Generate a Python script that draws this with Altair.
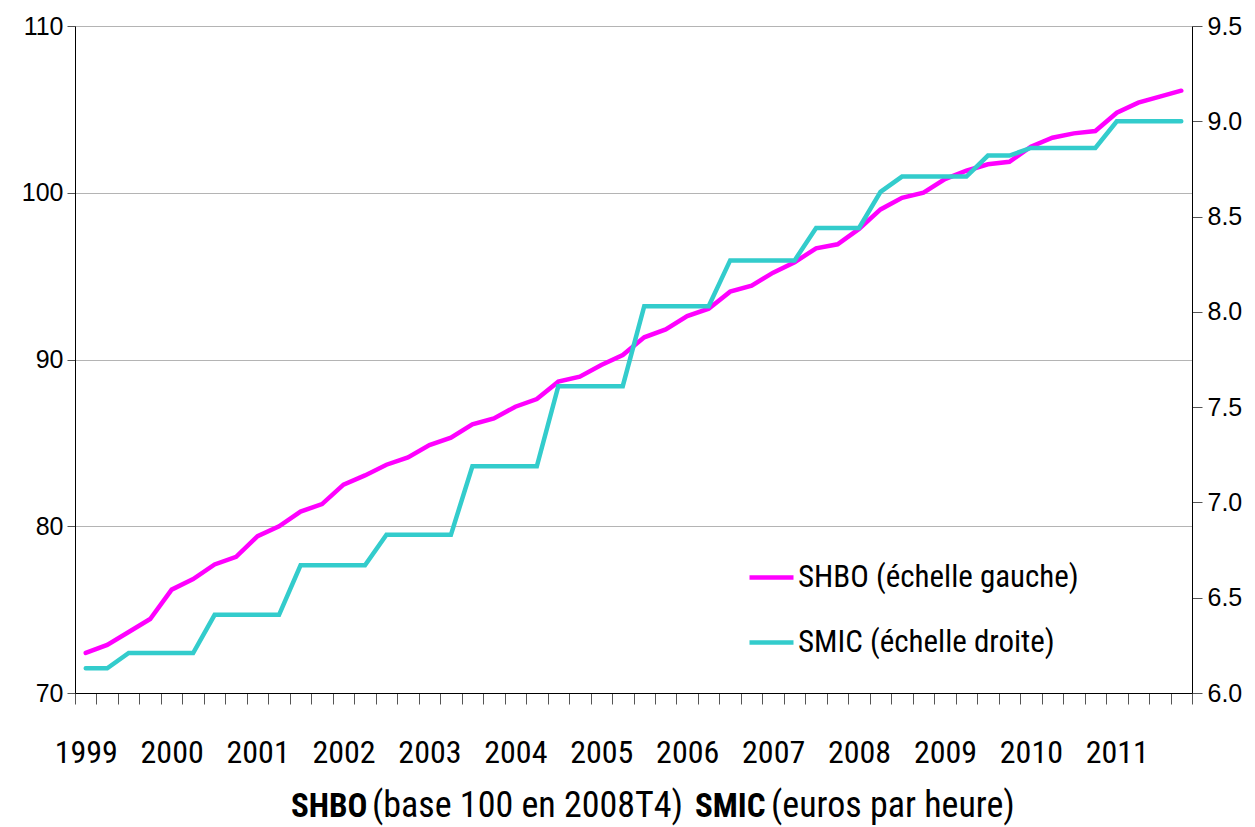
import altair as alt
import pandas as pd

# ---- data -------------------------------------------------------------
quarters = [f"{y}T{q}" for y in range(1999, 2012) for q in range(1, 5)]
year_labels = [str(y) for y in range(1999, 2012)]

shbo = [72.40, 72.88, 73.66, 74.44, 76.20, 76.83, 77.71, 78.17, 79.41, 80.00,
        80.88, 81.33, 82.50, 83.05, 83.69, 84.13, 84.87, 85.31, 86.11, 86.47,
        87.17, 87.63, 88.67, 88.97, 89.67, 90.27, 91.33, 91.80, 92.60, 93.05,
        94.07, 94.43, 95.21, 95.83, 96.67, 96.91, 97.83, 99.00, 99.70, 100.00,
        100.82, 101.32, 101.71, 101.86, 102.76, 103.30, 103.56, 103.70, 104.80,
        105.40, 105.76, 106.12]

smic = [6.13, 6.13,
        6.21, 6.21, 6.21, 6.21,
        6.41, 6.41, 6.41, 6.41,
        6.67, 6.67, 6.67, 6.67,
        6.83, 6.83, 6.83, 6.83,
        7.19, 7.19, 7.19, 7.19,
        7.61, 7.61, 7.61, 7.61,
        8.03, 8.03, 8.03, 8.03,
        8.27, 8.27, 8.27, 8.27,
        8.44, 8.44, 8.44,
        8.63,
        8.71, 8.71, 8.71, 8.71,
        8.82, 8.82,
        8.86, 8.86, 8.86, 8.86,
        9.00, 9.00, 9.00, 9.00]

series_names = ["SHBO (échelle gauche)", "SMIC (échelle droite)"]
series_colors = ["#FF00FF", "#33CCCC"]

left_ticks = [70, 80, 90, 100, 110]
right_ticks = [6.0, 6.5, 7.0, 7.5, 8.0, 8.5, 9.0, 9.5]

assert len(shbo) == len(quarters) == len(smic)

idx = list(range(len(quarters)))
df_shbo = pd.DataFrame({"i": idx, "q": quarters, "v": shbo, "s": series_names[0]})
df_smic = pd.DataFrame({"i": idx, "q": quarters, "v": smic, "s": series_names[1]})

NARROW = "Roboto Condensed, Roboto, sans-serif"
ARIAL = "Liberation Sans, Arial, sans-serif"

n = len(quarters)
x_values = [k - 0.5 for k in range(n + 1)] + [4 * k for k in range(len(year_labels))]

x_enc = alt.X(
    "i:Q",
    scale=alt.Scale(domain=[-0.5, n - 0.5], nice=False, zero=False),
    axis=alt.Axis(
        title=None,
        values=x_values,
        labelExpr="datum.value % 4 === 0 ? '' + (1999 + datum.value / 4) : ''",
        tickOpacity={"condition": {"test": "datum.value % 1 === 0", "value": 0}, "value": 1},
        tickSize=11,
        tickColor="#555555",
        domainColor="#000000",
        labelFont=NARROW,
        labelFontSize=32,
        labelColor="#000000",
        labelPadding=33,
        labelOverlap=False,
        labelFlush=False,
        grid=False,
    ),
)

color_enc = alt.Color(
    "s:N",
    scale=alt.Scale(domain=series_names, range=series_colors),
    legend=alt.Legend(
        title=None,
        orient="none",
        legendX=672,
        legendY=527,
        symbolType="stroke",
        symbolStrokeWidth=4.5,
        symbolSize=1936,
        labelFont=NARROW,
        labelFontSize=31,
        labelColor="#000000",
        labelOffset=2,
        labelLimit=500,
        rowPadding=25,
    ),
)

shbo_line = alt.Chart(df_shbo).mark_line(strokeWidth=4.5, strokeCap="round").encode(
    x=x_enc,
    y=alt.Y(
        "v:Q",
        scale=alt.Scale(domain=[70, 110], nice=False, zero=False),
        axis=alt.Axis(
            orient="left",
            title=None,
            values=left_ticks,
            format="d",
            tickSize=8,
            tickColor="#555555",
            domainColor="#000000",
            labelFont=ARIAL,
            labelFontSize=25,
            labelColor="#000000",
            labelPadding=4,
            grid=True,
            gridColor="#b4b4b4",
            gridWidth=1,
        ),
    ),
    color=color_enc,
    order="i:Q",
)

smic_line = alt.Chart(df_smic).mark_line(strokeWidth=4.5, strokeCap="round").encode(
    x=x_enc,
    y=alt.Y(
        "v:Q",
        scale=alt.Scale(domain=[6.0, 9.5], nice=False, zero=False),
        axis=alt.Axis(
            orient="right",
            title=None,
            values=right_ticks,
            format=".1f",
            tickSize=10,
            tickColor="#555555",
            domainColor="#000000",
            labelFont=ARIAL,
            labelFontSize=25,
            labelColor="#000000",
            labelPadding=5,
            grid=False,
        ),
    ),
    color=color_enc,
    order="i:Q",
)

# ---- bottom caption with mixed weights ----------------------------------
def cap(text, x, bold):
    return alt.Chart(pd.DataFrame({"t": [text]})).mark_text(
        align="left", baseline="alphabetic", font=NARROW,
        fontSize=33 if bold else 36,
        fontWeight="bold" if bold else "normal", color="#000000",
    ).encode(text="t:N", x=alt.value(x), y=alt.value(791))

caption = (cap("SHBO", 216, True)
           + cap("(base 100 en 2008T4)", 297, False)
           + cap("SMIC", 620, True)
           + cap("(euros par heure)", 696, False))

chart = alt.layer(shbo_line, smic_line).resolve_scale(y="independent")
chart = alt.layer(chart, caption).properties(
    width=1117,
    height=667,
    autosize=alt.AutoSizeParams(type="none"),
    padding={"left": 67, "top": 18, "right": 55, "bottom": 134},
).configure_view(stroke="#404040", strokeWidth=1).configure(background="#ffffff")

chart.save("out.html", embed_options={"renderer": "svg", "actions": False})
